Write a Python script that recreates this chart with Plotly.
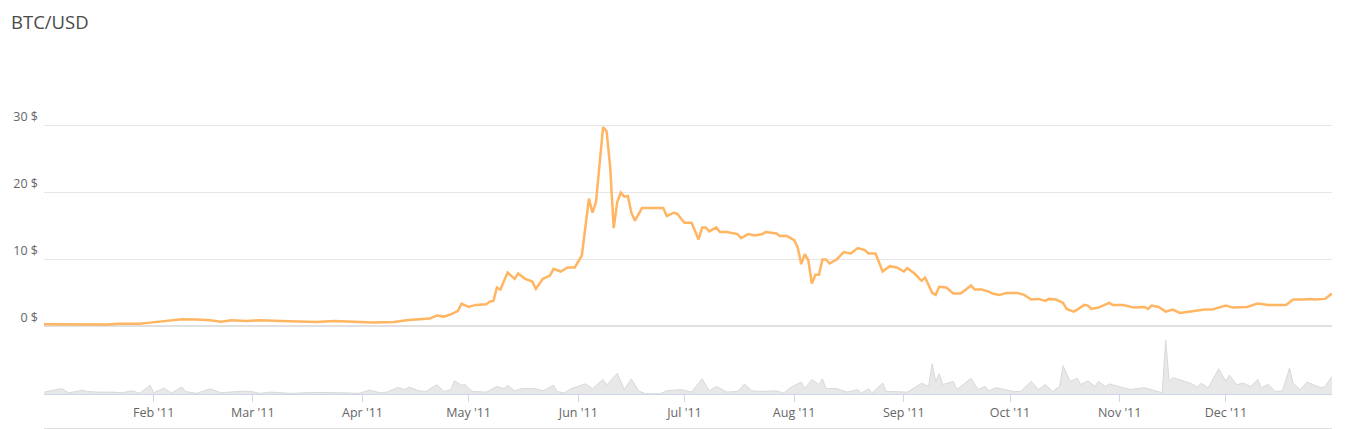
import plotly.graph_objects as go

# ---- data ----
price_dates = [
    "2011-01-01", "2011-01-09", "2011-01-14", "2011-01-19", "2011-01-22", "2011-01-28", "2011-01-31",
    "2011-02-05", "2011-02-08", "2011-02-09", "2011-02-13", "2011-02-17", "2011-02-20", "2011-02-23", "2011-02-27",
    "2011-03-03", "2011-03-09", "2011-03-19", "2011-03-24", "2011-03-28",
    "2011-04-04", "2011-04-10", "2011-04-14", "2011-04-20", "2011-04-22", "2011-04-24", "2011-04-26", "2011-04-28", "2011-04-29",
    "2011-05-01", "2011-05-03", "2011-05-06", "2011-05-07", "2011-05-08", "2011-05-09", "2011-05-10", "2011-05-12",
    "2011-05-14", "2011-05-15", "2011-05-17", "2011-05-19", "2011-05-20", "2011-05-22", "2011-05-24", "2011-05-25",
    "2011-05-27", "2011-05-29", "2011-05-31",
    "2011-06-02", "2011-06-04", "2011-06-05", "2011-06-06", "2011-06-08", "2011-06-09", "2011-06-10", "2011-06-11",
    "2011-06-12", "2011-06-13", "2011-06-14", "2011-06-15", "2011-06-16", "2011-06-17", "2011-06-19", "2011-06-25",
    "2011-06-26", "2011-06-28", "2011-06-29",
    "2011-07-01", "2011-07-03", "2011-07-05", "2011-07-06", "2011-07-07", "2011-07-08", "2011-07-10", "2011-07-11",
    "2011-07-13", "2011-07-16", "2011-07-17", "2011-07-19", "2011-07-21", "2011-07-23", "2011-07-24", "2011-07-27",
    "2011-07-28", "2011-07-30",
    "2011-08-01", "2011-08-02", "2011-08-03", "2011-08-04", "2011-08-05", "2011-08-06", "2011-08-07", "2011-08-08",
    "2011-08-09", "2011-08-10", "2011-08-11", "2011-08-13", "2011-08-15", "2011-08-17", "2011-08-19", "2011-08-21",
    "2011-08-22", "2011-08-24", "2011-08-26", "2011-08-28", "2011-08-30",
    "2011-09-01", "2011-09-02", "2011-09-04", "2011-09-06", "2011-09-07", "2011-09-09", "2011-09-10", "2011-09-11",
    "2011-09-13", "2011-09-15", "2011-09-17", "2011-09-18", "2011-09-20", "2011-09-21", "2011-09-23", "2011-09-25",
    "2011-09-26", "2011-09-28", "2011-09-30",
    "2011-10-03", "2011-10-05", "2011-10-07", "2011-10-09", "2011-10-11", "2011-10-12", "2011-10-14", "2011-10-16",
    "2011-10-17", "2011-10-19", "2011-10-20", "2011-10-22", "2011-10-23", "2011-10-24", "2011-10-26", "2011-10-29",
    "2011-10-30",
    "2011-11-02", "2011-11-05", "2011-11-08", "2011-11-09", "2011-11-10", "2011-11-12", "2011-11-14", "2011-11-16",
    "2011-11-18", "2011-11-21", "2011-11-25", "2011-11-27", "2011-11-29",
    "2011-12-01", "2011-12-03", "2011-12-05", "2011-12-07", "2011-12-10", "2011-12-13", "2011-12-18", "2011-12-20",
    "2011-12-23", "2011-12-25", "2011-12-26", "2011-12-29", "2011-12-31",
]
price_values = [
    0.30, 0.25, 0.30, 0.28, 0.40, 0.40, 0.55,
    0.80, 0.95, 1.05, 1.00, 0.90, 0.70, 0.90, 0.80,
    0.90, 0.80, 0.65, 0.80, 0.70,
    0.55, 0.65, 0.95, 1.15, 1.60, 1.45, 1.80, 2.30, 3.40,
    2.90, 3.20, 3.30, 3.70, 3.80, 5.80, 5.50, 8.05,
    7.10, 7.90, 7.10, 6.70, 5.60, 7.10, 7.60, 8.60,
    8.20, 8.80, 8.80,
    10.6, 19.1, 17.0, 18.6, 29.8, 29.2, 23.9, 14.7,
    18.6, 20.0, 19.4, 19.5, 17.0, 15.8, 17.7, 17.7,
    16.5, 17.0, 16.8,
    15.5, 15.5, 13.0, 14.8, 14.8, 14.2, 14.8, 14.1,
    14.1, 13.8, 13.2, 13.8, 13.6, 13.8, 14.1, 13.9,
    13.5, 13.5,
    12.9, 11.8, 9.3, 10.8, 9.9, 6.4, 7.7, 7.7,
    10.0, 10.0, 9.4, 10.0, 11.1, 10.9, 11.7, 11.4,
    10.9, 10.9, 8.2, 9.0, 8.8,
    8.2, 8.7, 7.9, 6.8, 7.3, 5.0, 4.7, 5.9,
    5.8, 4.9, 4.9, 5.3, 6.1, 5.5, 5.5, 5.2,
    4.9, 4.7, 5.0,
    5.0, 4.7, 4.0, 4.1, 3.8, 4.1, 4.0, 3.5,
    2.6, 2.2, 2.5, 3.2, 3.1, 2.6, 2.8, 3.5,
    3.2,
    3.2, 2.8, 2.9, 2.6, 3.1, 2.9, 2.2, 2.5,
    2.0, 2.2, 2.5, 2.5, 2.8,
    3.1, 2.8, 2.8, 2.9, 3.4, 3.2, 3.2, 4.0,
    4.0, 4.1, 4.0, 4.1, 4.9,
]

volume_dates = [
    "2011-01-01", "2011-01-06", "2011-01-08", "2011-01-12", "2011-01-13", "2011-01-16", "2011-01-20", "2011-01-23",
    "2011-01-26", "2011-01-28", "2011-01-31",
    "2011-02-01", "2011-02-04", "2011-02-06", "2011-02-09", "2011-02-10", "2011-02-13", "2011-02-17", "2011-02-20",
    "2011-02-23", "2011-02-26",
    "2011-03-01", "2011-03-03", "2011-03-06", "2011-03-09", "2011-03-12", "2011-03-18", "2011-03-23", "2011-03-26",
    "2011-03-31",
    "2011-04-03", "2011-04-06", "2011-04-08", "2011-04-11", "2011-04-13", "2011-04-14", "2011-04-17", "2011-04-19",
    "2011-04-22", "2011-04-24", "2011-04-26", "2011-04-27", "2011-04-29", "2011-04-30",
    "2011-05-02", "2011-05-06", "2011-05-09", "2011-05-11", "2011-05-12", "2011-05-14", "2011-05-16", "2011-05-20",
    "2011-05-22", "2011-05-25", "2011-05-26", "2011-05-28", "2011-05-30",
    "2011-06-03", "2011-06-05", "2011-06-08", "2011-06-09", "2011-06-12", "2011-06-14", "2011-06-16", "2011-06-18",
    "2011-06-20", "2011-06-24", "2011-06-26", "2011-06-30",
    "2011-07-03", "2011-07-06", "2011-07-08", "2011-07-10", "2011-07-13", "2011-07-16", "2011-07-18", "2011-07-20",
    "2011-07-23", "2011-07-27", "2011-07-29", "2011-07-31",
    "2011-08-03", "2011-08-04", "2011-08-06", "2011-08-08", "2011-08-09", "2011-08-10", "2011-08-13", "2011-08-16",
    "2011-08-19", "2011-08-20", "2011-08-22", "2011-08-23", "2011-08-26", "2011-08-27", "2011-08-28",
    "2011-09-01", "2011-09-02", "2011-09-06", "2011-09-08", "2011-09-09", "2011-09-10", "2011-09-11", "2011-09-12",
    "2011-09-15", "2011-09-16", "2011-09-20", "2011-09-22", "2011-09-24", "2011-09-25", "2011-09-27", "2011-09-30",
    "2011-10-02", "2011-10-04", "2011-10-07", "2011-10-09", "2011-10-11", "2011-10-13", "2011-10-15", "2011-10-16",
    "2011-10-18", "2011-10-20", "2011-10-21", "2011-10-23", "2011-10-25", "2011-10-26", "2011-10-28", "2011-10-29",
    "2011-11-01", "2011-11-04", "2011-11-08", "2011-11-10", "2011-11-13", "2011-11-14", "2011-11-15", "2011-11-16",
    "2011-11-19", "2011-11-21", "2011-11-23", "2011-11-24", "2011-11-26", "2011-11-29",
    "2011-12-01", "2011-12-02", "2011-12-04", "2011-12-06", "2011-12-08", "2011-12-10", "2011-12-11", "2011-12-13",
    "2011-12-15", "2011-12-17", "2011-12-19", "2011-12-20", "2011-12-22", "2011-12-24", "2011-12-26", "2011-12-28",
    "2011-12-29", "2011-12-31",
]
volume_values = [
    3, 8.5, 2, 6, 4, 3, 3, 2,
    5, 1, 14,
    2, 9.5, 1.5, 11, 4, 1, 8, 2,
    3, 4.5,
    3.5, 1, 3, 1.5, 1, 2.5, 2.5, 2,
    1,
    6, 2, 3, 10.5, 7, 11, 5, 4,
    15, 4, 7, 21, 14, 15,
    4, 3, 12, 8.5, 14, 5, 8.5, 8.5,
    5, 14, 4, 1.5, 8.5,
    16, 8.5, 23, 14, 33, 7, 24, 5,
    0.5, 0.5, 5, 7,
    3, 24, 5, 12, 3, 4, 16, 5,
    4, 5, 1.5, 10.5,
    19, 8.5, 23, 15, 24, 8.5, 8.5, 3,
    7, 1.5, 8.5, 1.5, 17.5, 4, 4,
    2.5, 3, 17, 12, 48, 20, 32, 15,
    20, 7, 25, 7, 12, 5, 10, 7,
    4, 4, 20, 7, 15, 4, 12, 45,
    20, 25, 15, 21, 12, 20, 12, 16,
    11, 7, 10, 7, 2, 85, 20, 26,
    20, 17, 11, 17, 10, 40,
    20, 30, 15, 17, 12, 23, 10, 15,
    4, 5, 41, 17, 7, 19, 14, 10,
    12, 28,
]

month_ticks = ["2011-02-01", "2011-03-01", "2011-04-01", "2011-05-01", "2011-06-01", "2011-07-01",
               "2011-08-01", "2011-09-01", "2011-10-01", "2011-11-01", "2011-12-01"]
price_ticks = [0, 10, 20, 30, 40]
price_tick_labels = ["0 $", "10 $", "20 $", "30 $", ""]

# ---- figure ----
# the page body adds an offset; positions below are in figure coordinates
OX, OY = 8, 7
W, H = 1356, 429
plot_left, plot_right = 44 - OX, 1332 - OX
plot_top, plot_bottom = 58 - OY, 393 - OY
plot_h = plot_bottom - plot_top
plot_w = plot_right - plot_left
price_bottom_px = 325.3 - OY
vol_top_px = 330 - OY

fig = go.Figure()

fig.add_trace(go.Scatter(
    x=volume_dates, y=volume_values, yaxis="y2", mode="lines",
    line=dict(color="#d9d9d9", width=1), fill="tozeroy", fillcolor="#e8e8e8",
    hoverinfo="skip", showlegend=False,
))
fig.add_trace(go.Scatter(
    x=price_dates, y=price_values, yaxis="y", mode="lines",
    line=dict(color="#ffb562", width=2.5), showlegend=False,
))

font_family = "Open Sans, DejaVu Sans, sans-serif"

fig.update_layout(
    width=W, height=H,
    margin=dict(l=plot_left, r=W - plot_right, t=plot_top, b=H - plot_bottom, pad=0, autoexpand=False),
    paper_bgcolor="white", plot_bgcolor="white",
    font=dict(family=font_family, size=12, color="#666666"),
    showlegend=False,
    xaxis=dict(
        type="date", range=["2011-01-01", "2011-12-31"], anchor="y2",
        showgrid=False, zeroline=False,
        showline=True, linecolor="#ccd6eb", linewidth=1,
        ticks="outside", ticklen=7, tickcolor="#ccd6eb", tickwidth=1,
        tickvals=month_ticks, tickformat="%b '%y",
        tickfont=dict(size=12.5, color="#666666"),
    ),
    yaxis=dict(
        domain=[(plot_bottom - price_bottom_px) / plot_h, 1.0],
        range=[0, 40],
        tickvals=price_ticks, ticktext=price_tick_labels,
        showgrid=True, gridcolor="#e6e6e6", gridwidth=1,
        zeroline=True, zerolinecolor="#e0e0e0", zerolinewidth=2,
        showline=False, ticks="",
        ticklabelposition="outside top", ticklabelstandoff=5,
        tickfont=dict(size=12.5, color="#666666"),
    ),
    yaxis2=dict(
        domain=[0, (plot_bottom - vol_top_px) / plot_h],
        range=[0, 100],
        showgrid=False, zeroline=False, showticklabels=False, showline=False, ticks="",
    ),
    annotations=[dict(
        text="BTC/USD", xref="paper", yref="paper",
        x=(10 - 44) / plot_w, y=1 + plot_top / plot_h,
        xanchor="left", yanchor="top", showarrow=False, borderpad=0,
        font=dict(family=font_family, size=18.5, color="#4a4a4a"),
    )],
    shapes=[dict(
        type="line", xref="paper", yref="paper", x0=0, x1=1,
        y0=-(428 - 393) / plot_h, y1=-(428 - 393) / plot_h,
        line=dict(color="#e0e0e0", width=2),
    )],
)

fig.write_html("out.html")
